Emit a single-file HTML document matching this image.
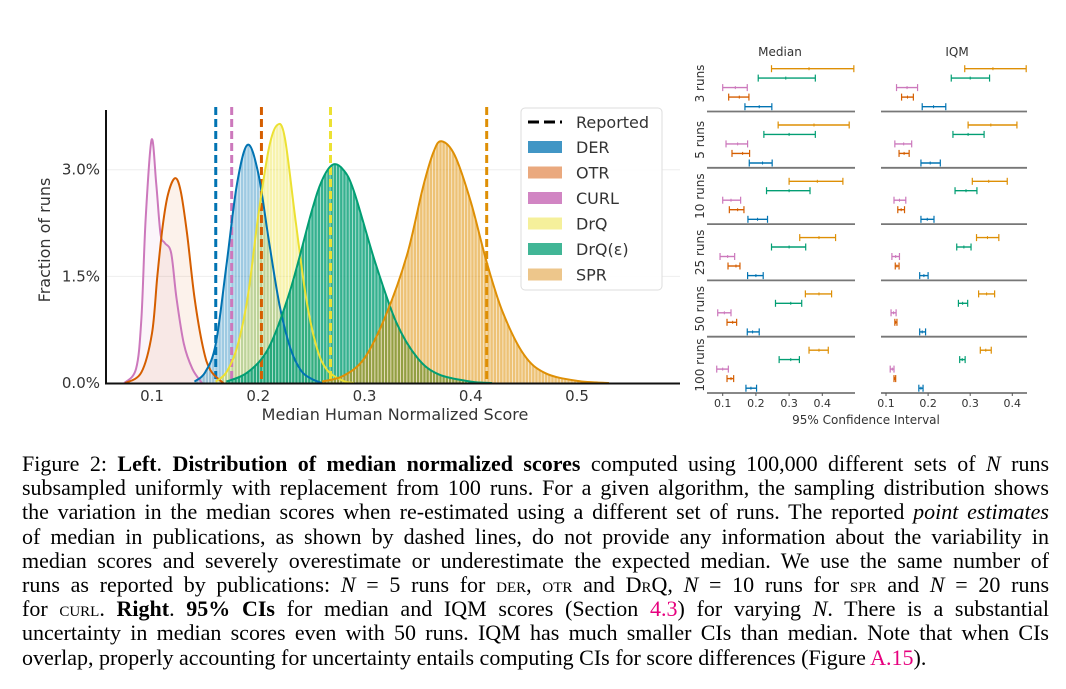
<!DOCTYPE html>
<html><head><meta charset="utf-8">
<style>
html,body{margin:0;padding:0;background:#fff;}
#root{position:relative;width:1066px;height:689px;overflow:hidden;background:#fff;}
svg text{font-family:"DejaVu Sans","Liberation Sans",sans-serif;}
.cap{position:absolute;left:22px;width:1027px;font-family:"Liberation Serif",serif;font-size:22px;line-height:24.2px;height:24.2px;white-space:nowrap;color:#000;}
.j{text-align:justify;text-align-last:justify;white-space:normal;}
.sc{font-variant:small-caps;}
.lnk{color:#e6007e;}
</style></head><body>
<div id="root">
<svg id="chart" width="1066" height="440" style="position:absolute;left:0;top:0"></svg>
<div>
<div class="cap j" style="top:452px">Figure 2: <b>Left</b>. <b>Distribution of median normalized scores</b> computed using 100,000 different sets of <i>N</i> runs</div>
<div class="cap j" style="top:476.2px">subsampled uniformly with replacement from 100 runs. For a given algorithm, the sampling distribution shows</div>
<div class="cap j" style="top:500.4px">the variation in the median scores when re-estimated using a different set of runs. The reported <i>point estimates</i></div>
<div class="cap j" style="top:524.6px">of median in publications, as shown by dashed lines, do not provide any information about the variability in</div>
<div class="cap j" style="top:548.8px">median scores and severely overestimate or underestimate the expected median. We use the same number of</div>
<div class="cap j" style="top:573px">runs as reported by publications: <i>N</i> = 5 runs for <span class="sc">der</span>, <span class="sc">otr</span> and <span class="sc">DrQ</span>, <i>N</i> = 10 runs for <span class="sc">spr</span> and <i>N</i> = 20 runs</div>
<div class="cap j" style="top:597.2px">for <span class="sc">curl</span>. <b>Right</b>. <b>95% CIs</b> for median and IQM scores (Section <span class="lnk">4.3</span>) for varying <i>N</i>. There is a substantial</div>
<div class="cap j" style="top:621.4px">uncertainty in median scores even with 50 runs. IQM has much smaller CIs than median. Note that when CIs</div>
<div class="cap" style="top:645.6px">overlap, properly accounting for uncertainty entails computing CIs for score differences (Figure <span class="lnk">A.15</span>).</div>
</div>
</div>
<script>
// ---- Left chart data ----
const seriesNames = ["CURL","OTR","DER","DrQ","DrQ(ε)","SPR"];
const curlX = [0.074,0.085,0.09,0.094,0.0996,0.104,0.108,0.112,0.118,0.123,0.13,0.138,0.147];
const curlY = [0,0.2,0.9,2.3,3.42,2.8,2.1,1.97,1.83,1.2,0.55,0.2,0];
const otrX = [0.075,0.09,0.10,0.105,0.11,0.115,0.1216,0.127,0.133,0.14,0.148,0.155,0.167];
const otrY = [0,0.15,0.7,1.5,2.2,2.65,2.88,2.7,2.1,1.2,0.5,0.18,0];
const derX = [0.14,0.15,0.16,0.17,0.18,0.19,0.20,0.21,0.22,0.23,0.24,0.25,0.26];
const derY = [0.02,0.15,0.55,1.65,2.8,3.35,2.95,2.0,1.1,0.5,0.18,0.06,0];
const drqX = [0.16,0.17,0.18,0.19,0.20,0.21,0.218,0.225,0.235,0.245,0.255,0.265,0.28,0.29];
const drqY = [0.02,0.15,0.5,1.2,2.35,3.3,3.63,3.45,2.3,1.2,0.5,0.18,0.03,0];
const drqeX = [0.17,0.19,0.21,0.23,0.25,0.26,0.27,0.28,0.29,0.31,0.33,0.35,0.37,0.40,0.42];
const drqeY = [0.02,0.15,0.5,1.3,2.4,2.85,3.07,3.0,2.7,1.7,0.85,0.35,0.12,0.02,0];
const sprX = [0.26,0.28,0.30,0.32,0.34,0.355,0.365,0.3725,0.385,0.40,0.415,0.43,0.45,0.47,0.50,0.53];
const sprY = [0.02,0.1,0.35,0.95,1.8,2.75,3.25,3.40,3.2,2.55,1.7,1.0,0.4,0.14,0.03,0];
const reportedNames = ["DER","CURL","OTR","DrQ","SPR"];
const reportedVals = [0.160,0.175,0.203,0.268,0.415];
const xTicks = [0.1,0.2,0.3,0.4,0.5];
const yTicks = [0,1.5,3.0];
const yTickLabels = ["0.0%","1.5%","3.0%"];
// ---- Right chart data: [low, mid, high] per algorithm, rows = run counts ----
const runLabels = ["3 runs","5 runs","10 runs","25 runs","50 runs","100 runs"];
const ciAlgos = ["SPR","DrQ(ε)","CURL","OTR","DER"];
const medSPR  = [[0.247,0.36,0.495],[0.267,0.375,0.481],[0.30,0.385,0.462],[0.332,0.39,0.44],[0.349,0.39,0.428],[0.36,0.39,0.418]];
const medDRQE = [[0.207,0.29,0.379],[0.224,0.30,0.379],[0.232,0.30,0.363],[0.247,0.30,0.35],[0.259,0.305,0.338],[0.27,0.305,0.331]];
const medCURL = [[0.10,0.138,0.174],[0.11,0.145,0.175],[0.10,0.125,0.154],[0.092,0.115,0.136],[0.085,0.105,0.125],[0.082,0.10,0.117]];
const medOTR  = [[0.118,0.15,0.179],[0.128,0.16,0.181],[0.12,0.145,0.164],[0.116,0.14,0.152],[0.113,0.13,0.142],[0.113,0.125,0.133]];
const medDER  = [[0.167,0.21,0.248],[0.18,0.22,0.249],[0.176,0.205,0.235],[0.175,0.20,0.222],[0.174,0.19,0.21],[0.17,0.185,0.202]];
const iqmSPR  = [[0.287,0.354,0.433],[0.295,0.349,0.411],[0.305,0.344,0.388],[0.315,0.341,0.368],[0.32,0.339,0.358],[0.324,0.337,0.35]];
const iqmDRQE = [[0.255,0.30,0.346],[0.259,0.295,0.333],[0.264,0.29,0.316],[0.268,0.285,0.302],[0.272,0.282,0.294],[0.275,0.281,0.288]];
const iqmCURL = [[0.125,0.15,0.175],[0.121,0.142,0.161],[0.119,0.132,0.147],[0.114,0.123,0.132],[0.112,0.118,0.124],[0.110,0.115,0.119]];
const iqmOTR  = [[0.137,0.151,0.165],[0.131,0.143,0.155],[0.128,0.136,0.144],[0.122,0.126,0.131],[0.121,0.123,0.126],[0.119,0.121,0.123]];
const iqmDER  = [[0.186,0.213,0.242],[0.183,0.205,0.229],[0.183,0.198,0.214],[0.180,0.19,0.20],[0.18,0.186,0.194],[0.178,0.183,0.188]];
const ciTicks = [0.1,0.2,0.3,0.4];

const NS="http://www.w3.org/2000/svg";
const svg=document.getElementById('chart');
function mk(tag,attrs,parent){const e=document.createElementNS(NS,tag);for(const k in attrs)e.setAttribute(k,attrs[k]);(parent||svg).appendChild(e);return e;}
const C={DER:"#0173b2",OTR:"#d55e00",CURL:"#cc78bc",DrQ:"#ece133",DrQe:"#029e73",SPR:"#de8f05"};

const X=v=>152+(v-0.1)*1062.5;
const Y=p=>383-p*71.1;
function spline(xs,ys){
  const P=xs.map((x,i)=>[X(x),Y(ys[i])]);
  let d="M"+P[0][0]+","+P[0][1];
  for(let i=0;i<P.length-1;i++){
    const p0=P[i-1]||P[i],p1=P[i],p2=P[i+1],p3=P[i+2]||P[i+1];
    const c1=[p1[0]+(p2[0]-p0[0])/6,p1[1]+(p2[1]-p0[1])/6];
    const c2=[p2[0]-(p3[0]-p1[0])/6,p2[1]-(p3[1]-p1[1])/6];
    d+=` C${c1[0]},${Math.min(c1[1],383)} ${c2[0]},${Math.min(c2[1],383)} ${p2[0]},${p2[1]}`;
  }
  return d;
}
const defs=mk('defs',{});
const pat=mk('pattern',{id:'stripes',width:3.2,height:10,patternUnits:'userSpaceOnUse'},defs);
mk('rect',{x:0,y:0,width:0.9,height:10,fill:'#fff','fill-opacity':0.6},pat);

yTicks.forEach((t,i)=>{
  if(t>0){const g=mk('line',{x1:107,x2:680,y1:Y(t),y2:Y(t),stroke:'#eee','stroke-width':1});
  
  }
  const tx=mk('text',{x:100,y:Y(t)+5,'text-anchor':'end','font-size':15,fill:'#333'});
  tx.textContent=yTickLabels[i];
  
  
});
xTicks.forEach(t=>{
  const tx=mk('text',{x:X(t),y:401,'text-anchor':'middle','font-size':15,fill:'#333'});
  tx.textContent=t.toFixed(1);
  
  
});

const series=[
 ["curl",curlX,curlY,C.CURL,0.07],["otr",otrX,otrY,C.OTR,0.08],["der",derX,derY,C.DER,0.38],
 ["drq",drqX,drqY,C.DrQ,0.4],["drq-eps",drqeX,drqeY,C.DrQe,0.8],["spr",sprX,sprY,C.SPR,0.55]];
series.forEach(s=>{
  const d=spline(s[1],s[2])+` L${X(s[1][s[1].length-1])},383 L${X(s[1][0])},383 Z`;
  const a=mk('path',{d:d,fill:s[3],'fill-opacity':s[4]});
  
  
  if(s[4]>0.2) mk('path',{d:d,fill:'url(#stripes)'});
});
const repCol=[C.DER,C.CURL,C.OTR,C.DrQ,C.SPR];
reportedVals.forEach((v,i)=>{
  const l=mk('line',{x1:X(v),x2:X(v),y1:107,y2:383,stroke:repCol[i],'stroke-width':3,'stroke-dasharray':'8,4'});
  
  
});
series.forEach(s=>{
  const l=mk('path',{d:spline(s[1],s[2]),fill:'none',stroke:s[3],'stroke-width':2});
  
  
});
mk('line',{x1:106,x2:106,y1:110,y2:384,stroke:'#111','stroke-width':2});
mk('line',{x1:105,x2:680,y1:383.5,y2:383.5,stroke:'#111','stroke-width':2});
let t=mk('text',{x:395,y:420,'text-anchor':'middle','font-size':16,fill:'#333'});t.textContent="Median Human Normalized Score";


t=mk('text',{x:0,y:0,'text-anchor':'middle','font-size':16,fill:'#333',transform:'translate(50,240) rotate(-90)'});t.textContent="Fraction of runs";


const lg=mk('g',{});


mk('rect',{x:521,y:108,width:141,height:182,rx:4,fill:'#fff','fill-opacity':0.9,stroke:'#ddd'},lg);
mk('line',{x1:528,x2:562,y1:122,y2:122,stroke:'#000','stroke-width':3,'stroke-dasharray':'11,5'},lg);
let lt=mk('text',{x:576,y:128,'font-size':16,fill:'#333'},lg);lt.textContent="Reported";
const legNames=["DER","OTR","CURL","DrQ","DrQ(ε)","SPR"];
const legCols=[C.DER,"#e8a070",C.CURL,"#f4ee90",C.DrQe,"#ebc07e"];
legNames.forEach((n,i)=>{
  const yy=147+i*25.5;
  const r=mk('rect',{x:528,y:yy-6,width:34,height:12,fill:legCols[i],'fill-opacity':i===0?0.75:(i===4?0.75:0.9)},lg);
  
  
  const tx=mk('text',{x:576,y:yy+6,'font-size':16,fill:'#333'},lg);tx.textContent=n;
  
  
});

const seps=[111.5,167.8,224.1,280.4,336.7,393];
const offs=[-42.8,-33.4,-23.9,-14.4,-4.8];
const ciCols=[C.SPR,C.DrQe,C.CURL,C.OTR,C.DER];
function panel(name,x0,x1,xf,data,title,tx){
  const g=mk('g',{});
  
  
  const tt=mk('text',{x:tx,y:56,'text-anchor':'middle','font-size':12,fill:'#333'},g);tt.textContent=title;
  seps.forEach(y=>mk('line',{x1:x0,x2:x1,y1:y,y2:y,stroke:'#777','stroke-width':1.8},g));
  runLabels.forEach((r,ri)=>{
    data.forEach((arr,ai)=>{
      const v=arr[ri],y=seps[ri]+offs[ai],col=ciCols[ai];
      const b=mk('g',{},g);
      
      
      mk('line',{x1:xf(v[0]),x2:xf(v[2]),y1:y,y2:y,stroke:col,'stroke-width':1.4},b);
      mk('line',{x1:xf(v[0]),x2:xf(v[0]),y1:y-3.5,y2:y+3.5,stroke:col,'stroke-width':1.2},b);
      mk('line',{x1:xf(v[2]),x2:xf(v[2]),y1:y-3.5,y2:y+3.5,stroke:col,'stroke-width':1.2},b);
      mk('line',{x1:xf(v[1]),x2:xf(v[1]),y1:y-1.5,y2:y+1.5,stroke:col,'stroke-width':1},b);
    });
  });
  ciTicks.forEach(tk=>{
    mk('line',{x1:xf(tk),x2:xf(tk),y1:393,y2:396,stroke:'#555','stroke-width':1},g);
    const l=mk('text',{x:xf(tk),y:407,'text-anchor':'middle','font-size':11,fill:'#333'},g);l.textContent=tk.toFixed(1);
  });
}
const XM=v=>722.7+(v-0.1)*332;
const XI=v=>886+(v-0.1)*421;
panel('median',707,855,XM,[medSPR,medDRQE,medCURL,medOTR,medDER],'Median',780);
panel('iqm',881,1027,XI,[iqmSPR,iqmDRQE,iqmCURL,iqmOTR,iqmDER],'IQM',957);
runLabels.forEach((r,ri)=>{
  const l=mk('text',{x:0,y:0,'text-anchor':'middle','font-size':12,fill:'#333',transform:`translate(704,${seps[ri]-28}) rotate(-90)`});
  l.textContent=r;
  
  
});
t=mk('text',{x:866,y:424,'text-anchor':'middle','font-size':12,fill:'#333'});t.textContent="95% Confidence Interval";


</script>
</body></html>
